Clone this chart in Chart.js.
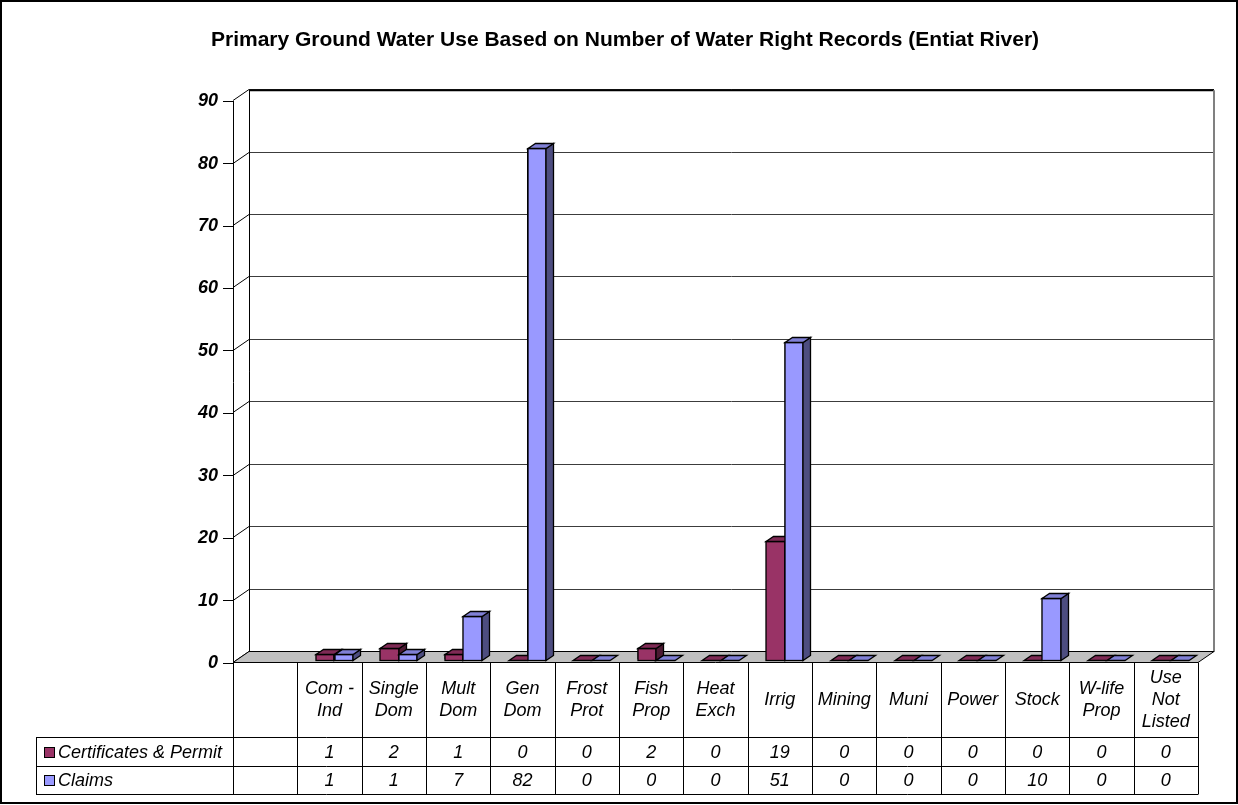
<!DOCTYPE html>
<html>
<head>
<meta charset="utf-8">
<title>Primary Ground Water Use (Entiat River)</title>
<script src="https://cdn.jsdelivr.net/npm/chart.js@4.4.1/dist/chart.umd.min.js"></script>
<style>
  html, body { margin: 0; padding: 0; background: #fff; }
  canvas { display: block; }
</style>
</head>
<body>
<canvas id="chart" width="1238" height="805"></canvas>
<script>
// Use categories (multi-line labels); the first column of the table is left empty.
const categories = [
  [""], ["Com -", "Ind"], ["Single", "Dom"], ["Mult", "Dom"], ["Gen", "Dom"],
  ["Frost", "Prot"], ["Fish", "Prop"], ["Heat", "Exch"], ["Irrig"], ["Mining"],
  ["Muni"], ["Power"], ["Stock"], ["W-life", "Prop"], ["Use", "Not", "Listed"]
];
const seriesNames = ["Certificates & Permit", "Claims"];
const certificates = [null, 1, 2, 1, 0, 0, 2, 0, 19, 0, 0, 0, 0, 0, 0];
const claims       = [null, 1, 1, 7, 82, 0, 0, 0, 51, 0, 0, 0, 10, 0, 0];
const yTickValues  = [0, 10, 20, 30, 40, 50, 60, 70, 80, 90];

const FONT = '"Liberation Sans", Arial, Helvetica, sans-serif';
const COLORS = [
  { front: '#993366', top: '#7f2a55', side: '#4d1a33' },
  { front: '#9999ff', top: '#8080d6', side: '#4d4d80' }
];
const WALL = { dx: 16, dy: 11 };        // depth of the floor / back wall
const BAR_SHIFT = { dx: 4.5, dy: 3 };   // bars sit slightly behind the front plane
const BAR_DEPTH = { dx: 7.5, dy: 5 };   // depth of each column
const TABLE = { left: 36, row1: 737, row2: 766, bottom: 794, rowFont: 18 };

function poly(ctx, pts, fill) {
  ctx.beginPath();
  ctx.moveTo(pts[0][0], pts[0][1]);
  for (let i = 1; i < pts.length; i++) ctx.lineTo(pts[i][0], pts[i][1]);
  ctx.closePath();
  ctx.fillStyle = fill;
  ctx.fill();
  ctx.stroke();
}

// Draws one 3D column: front face, top face and right side face.
function drawColumn(ctx, x1, x2, top, base, c) {
  const { dx, dy } = BAR_DEPTH;
  const h = base - top;
  if (h > 0.5) {
    ctx.fillStyle = c.front;
    ctx.fillRect(x1, top, x2 - x1, h);
    ctx.strokeRect(x1, top, x2 - x1, h);
    poly(ctx, [[x2, top], [x2 + dx, top - dy], [x2 + dx, base - dy], [x2, base]], c.side);
  }
  poly(ctx, [[x1, top], [x2, top], [x2 + dx, top - dy], [x1 + dx, top - dy]], c.top);
}

const columns3D = {
  id: 'columns3D',
  beforeDraw(chart) {
    const ctx = chart.ctx;
    ctx.save();
    ctx.fillStyle = '#fff';
    ctx.fillRect(0, 0, chart.width, chart.height);
    ctx.restore();
  },
  beforeDatasetsDraw(chart) {
    const { ctx, chartArea: a, scales: { y } } = chart;
    const L = a.left, R = a.right, T = a.top, B = a.bottom;
    const { dx, dy } = WALL;
    ctx.save();
    // back wall
    ctx.fillStyle = '#fff';
    ctx.fillRect(L + dx, T - dy, R - L, B - T);
    // gridlines: diagonal on the side wall, then across the back wall
    y.ticks.forEach(t => {
      const py = Math.round(y.getPixelForValue(t.value)) - 0.5;
      ctx.lineWidth = 1;
      ctx.strokeStyle = '#000';
      ctx.beginPath();
      ctx.moveTo(L, py);
      ctx.lineTo(L + dx, py - dy);
      ctx.stroke();
      ctx.strokeStyle = '#3c3c3c';
      ctx.beginPath();
      ctx.moveTo(L + dx, py - dy);
      ctx.lineTo(R + dx, py - dy);
      ctx.stroke();
    });
    // wall edges
    ctx.strokeStyle = '#000';
    ctx.lineWidth = 1;
    ctx.beginPath();
    ctx.moveTo(L + dx + 0.5, T - dy);
    ctx.lineTo(L + dx + 0.5, B - dy);
    ctx.stroke();
    ctx.lineWidth = 2;
    ctx.beginPath();
    ctx.moveTo(L + dx, T - dy);
    ctx.lineTo(R + dx, T - dy);
    ctx.stroke();
    ctx.strokeStyle = '#808080';
    ctx.beginPath();
    ctx.moveTo(R + dx, T - dy);
    ctx.lineTo(R + dx, B - dy);
    ctx.stroke();
    // floor
    const by = Math.round(B) - 0.5;
    ctx.lineWidth = 1;
    ctx.strokeStyle = '#000';
    poly(ctx, [[L, by], [R, by], [R + dx, by - dy], [L + dx, by - dy]], '#c0c0c0');
    ctx.restore();

    // columns are drawn a little behind the front plane
    ctx.save();
    ctx.translate(BAR_SHIFT.dx, -BAR_SHIFT.dy);
  },
  afterDatasetsDraw(chart) {
    const ctx = chart.ctx;
    ctx.lineWidth = 1.3;
    ctx.strokeStyle = '#000';
    ctx.lineJoin = 'miter';
    const metas = chart.data.datasets.map((d, i) => chart.getDatasetMeta(i));
    const n = chart.data.labels.length;
    for (let i = 0; i < n; i++) {
      metas.forEach((meta, di) => {
        const v = chart.data.datasets[di].data[i];
        const el = meta.data[i];
        if (v === null || v === undefined || !el) return;
        const x1 = Math.round(el.x - el.width / 2) + 0.5;
        const x2 = Math.round(el.x + el.width / 2) + 0.5;
        const top = Math.round(Math.min(el.y, el.base)) + 0.5;
        const base = Math.round(Math.max(el.y, el.base)) + 0.5;
        drawColumn(ctx, x1, x2, top, base, COLORS[di]);
      });
    }
    ctx.restore();
  },
  afterDraw(chart) {
    const { ctx, chartArea: a, scales: { x } } = chart;
    const n = chart.data.labels.length;
    const colW = (x.right - x.left) / n;
    const L = x.left, R = x.right, B = Math.round(a.bottom) - 0.5;
    ctx.save();
    ctx.strokeStyle = '#000';
    ctx.lineWidth = 1;
    // horizontal rules of the data table
    [TABLE.row1, TABLE.row2, TABLE.bottom].forEach(yy => {
      ctx.beginPath();
      ctx.moveTo(TABLE.left, yy + 0.5);
      ctx.lineTo(R, yy + 0.5);
      ctx.stroke();
    });
    // column rules
    for (let i = 0; i <= n; i++) {
      const xx = Math.round(L + i * colW) + 0.5;
      ctx.beginPath();
      ctx.moveTo(xx, B);
      ctx.lineTo(xx, TABLE.bottom + 0.5);
      ctx.stroke();
    }
    ctx.beginPath();
    ctx.moveTo(TABLE.left + 0.5, TABLE.row1);
    ctx.lineTo(TABLE.left + 0.5, TABLE.bottom + 0.5);
    ctx.stroke();

    ctx.fillStyle = '#000';
    ctx.font = `italic ${TABLE.rowFont}px ${FONT}`;
    ctx.textAlign = 'center';
    ctx.textBaseline = 'middle';
    const headMid = (B + TABLE.row1) / 2;
    const lineH = 22;
    categories.forEach((lines, i) => {
      const cx = x.getPixelForValue(i);
      lines.forEach((ln, k) => {
        ctx.fillText(ln, cx, headMid + (k - (lines.length - 1) / 2) * lineH);
      });
    });
    const rows = [certificates, claims];
    const rowMid = [(TABLE.row1 + TABLE.row2) / 2 + 1, (TABLE.row2 + TABLE.bottom) / 2 + 1];
    rows.forEach((vals, r) => {
      vals.forEach((v, i) => {
        if (v === null) return;
        ctx.fillText(String(v), x.getPixelForValue(i), rowMid[r]);
      });
    });
    // legend keys in the first table column
    ctx.textAlign = 'left';
    seriesNames.forEach((name, r) => {
      const sy = Math.round(rowMid[r] - 6) + 0.5;
      ctx.fillStyle = COLORS[r].front;
      ctx.fillRect(44.5, sy, 10, 10);
      ctx.strokeRect(44.5, sy, 10, 10);
      ctx.fillStyle = '#000';
      ctx.fillText(name, 58, rowMid[r]);
    });
    // outer frame
    ctx.lineWidth = 2;
    ctx.strokeRect(1, 1, chart.width - 2, chart.height - 3);
    ctx.restore();
  }
};

new Chart(document.getElementById('chart'), {
  type: 'bar',
  data: {
    labels: categories,
    datasets: [
      { label: seriesNames[0], data: certificates, backgroundColor: COLORS[0].front },
      { label: seriesNames[1], data: claims, backgroundColor: COLORS[1].front }
    ]
  },
  options: {
    responsive: false,
    animation: false,
    events: [],
    layout: { padding: { left: 52, right: 40, top: 0, bottom: 142 } },
    datasets: {
      bar: {
        categoryPercentage: 0.57,
        barPercentage: 1.0,
        borderColor: '#000',
        borderWidth: 1,
        borderSkipped: false
      }
    },
    plugins: {
      legend: { display: false },
      tooltip: { enabled: false },
      title: {
        display: true,
        text: 'Primary Ground Water Use Based on Number of Water Right Records (Entiat River)',
        color: '#000',
        font: { family: FONT, size: 21, weight: 'bold' },
        padding: { top: 28, bottom: 48 }
      }
    },
    scales: {
      x: { display: false, offset: true },
      y: {
        min: yTickValues[0],
        max: yTickValues[yTickValues.length - 1],
        afterFit(scale) { scale.width = 181; },
        afterBuildTicks(scale) { scale.ticks = yTickValues.map(v => ({ value: v })); },
        ticks: {
          color: '#000',
          padding: 5,
          font: { family: FONT, size: 18, style: 'italic', weight: 'bold' }
        },
        grid: { drawOnChartArea: false, drawTicks: true, tickLength: 10, color: '#000' },
        border: { display: true, color: '#000', width: 1 }
      }
    }
  },
  plugins: [columns3D]
});
</script>
</body>
</html>
